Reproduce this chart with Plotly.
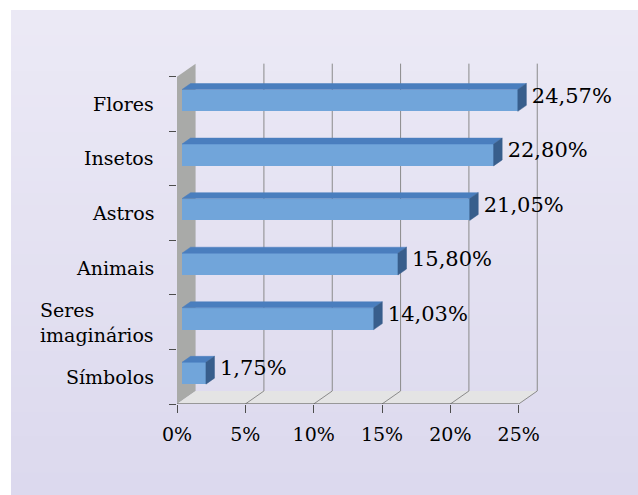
import plotly.graph_objects as go

# ---- data ----
categories = ["Símbolos", "Seres<br>imaginários", "Animais", "Astros", "Insetos", "Flores"]
values = [1.75, 14.03, 15.80, 21.05, 22.80, 24.57]
value_labels = ["1,75%", "14,03%", "15,80%", "21,05%", "22,80%", "24,57%"]
x_ticks = [0, 5, 10, 15, 20, 25]
x_tick_labels = ["0%", "5%", "10%", "15%", "20%", "25%"]

# ---- layout constants ----
W, H = 638, 495
ML, MR, MT, MB = 177, 92, 63, 91
X_RANGE = [0, 27]
Y_RANGE = [-0.5, 5.75]
DX, DY = 1.36, 0.238          # depth offset of the 3D box (data units)
F0, F1 = 0.27, 0.73           # front / back depth fraction of bars
BAR_H = 0.4
FONT = "DejaVu Serif"

pos = list(range(len(categories)))
y_lo, y_hi = pos[0] - 0.5, pos[-1] + 0.5
x_max = x_ticks[-1]

shapes = []

# background panel with vertical gradient
PW = W - ML - MR
PH = H - MT - MB
def px2paper_x(px):
    return (px - ML) / PW
def px2paper_y(py):
    return (H - MB - py) / PH

top_rgb = (236, 234, 246)
bot_rgb = (220, 217, 238)
N = 40
panel_top, panel_bot = 10, H + 2
for i in range(N):
    t = (i + 0.5) / N
    r = int(top_rgb[0] + (bot_rgb[0] - top_rgb[0]) * t)
    g = int(top_rgb[1] + (bot_rgb[1] - top_rgb[1]) * t)
    b = int(top_rgb[2] + (bot_rgb[2] - top_rgb[2]) * t)
    y0 = panel_top + (panel_bot - panel_top) * i / N
    y1 = panel_top + (panel_bot - panel_top) * (i + 1) / N + 1
    shapes.append(dict(type="rect", xref="paper", yref="paper",
                       x0=px2paper_x(11), x1=px2paper_x(W + 2),
                       y0=px2paper_y(y1), y1=px2paper_y(y0),
                       fillcolor=f"rgb({r},{g},{b})", line=dict(width=0), layer="below"))

def poly(pts):
    return "M " + " L ".join(f"{x},{y}" for x, y in pts) + " Z"

# left wall
shapes.append(dict(type="path", xref="x", yref="y", layer="below",
                   path=poly([(0, y_lo), (0, y_hi), (DX, y_hi + DY), (DX, y_lo + DY)]),
                   fillcolor="#A9AAA8", line=dict(width=0)))
# floor
shapes.append(dict(type="path", xref="x", yref="y", layer="below",
                   path=poly([(0, y_lo), (x_max, y_lo), (x_max + DX, y_lo + DY), (DX, y_lo + DY)]),
                   fillcolor="#E4E4E4", line=dict(width=0)))
# back wall gridlines + floor diagonals
for k in x_ticks[1:]:
    shapes.append(dict(type="line", xref="x", yref="y", layer="below",
                       x0=k + DX, x1=k + DX, y0=y_lo + DY, y1=y_hi + DY,
                       line=dict(color="#8A8A8A", width=1)))
    shapes.append(dict(type="line", xref="x", yref="y", layer="below",
                       x0=k, x1=k + DX, y0=y_lo, y1=y_lo + DY,
                       line=dict(color="#8A8A8A", width=1)))
# front baseline
shapes.append(dict(type="line", xref="x", yref="y", layer="below",
                   x0=0, x1=x_max, y0=y_lo, y1=y_lo,
                   line=dict(color="#4D4D4D", width=1)))

fig = go.Figure()

# bar front faces
fig.add_trace(go.Bar(
    x=values, y=[p + F0 * DY for p in pos], base=F0 * DX,
    orientation="h", width=BAR_H,
    marker=dict(color="#71A5DA", line=dict(width=0)),
    hoverinfo="skip", showlegend=False))

# top faces
tx, ty = [], []
for p, v in zip(pos, values):
    yt = p + BAR_H / 2
    tx += [F0 * DX, v + F0 * DX, v + F1 * DX, F1 * DX, F0 * DX, None]
    ty += [yt + F0 * DY, yt + F0 * DY, yt + F1 * DY, yt + F1 * DY, yt + F0 * DY, None]
fig.add_trace(go.Scatter(x=tx, y=ty, mode="lines", fill="toself",
                         fillcolor="#4A7EBE", line=dict(width=0.5, color="#4A7EBE"),
                         hoverinfo="skip", showlegend=False))

# side faces
sx, sy = [], []
for p, v in zip(pos, values):
    yb, yt = p - BAR_H / 2, p + BAR_H / 2
    sx += [v + F0 * DX, v + F0 * DX, v + F1 * DX, v + F1 * DX, v + F0 * DX, None]
    sy += [yb + F0 * DY, yt + F0 * DY, yt + F1 * DY, yb + F1 * DY, yb + F0 * DY, None]
fig.add_trace(go.Scatter(x=sx, y=sy, mode="lines", fill="toself",
                         fillcolor="#385E8C", line=dict(width=0.5, color="#385E8C"),
                         hoverinfo="skip", showlegend=False))

# value labels
fig.add_trace(go.Scatter(
    x=[v + F1 * DX + 0.4 for v in values], y=[p + 0.5 * DY for p in pos],
    mode="text", text=value_labels, textposition="middle right",
    textfont=dict(family=FONT, size=21, color="#000000"),
    cliponaxis=False, hoverinfo="skip", showlegend=False))

annotations = []
for p, c in zip(pos, categories):
    annotations.append(dict(xref="paper", yref="y", x=0, y=p, xshift=-21,
                            xanchor="right", yanchor="middle", align="left",
                            text=c, showarrow=False,
                            font=dict(family=FONT, size=19, color="#000000")))

fig.update_layout(
    width=W, height=H,
    margin=dict(l=ML, r=MR, t=MT, b=MB, autoexpand=False),
    paper_bgcolor="#FFFFFF", plot_bgcolor="rgba(0,0,0,0)",
    shapes=shapes, annotations=annotations,
    showlegend=False, bargap=0,
    xaxis=dict(range=X_RANGE, tickvals=x_ticks, ticktext=x_tick_labels,
               ticks="outside", ticklen=8, tickcolor="#4D4D4D", tickwidth=1,
               ticklabelstandoff=5,
               showgrid=False, zeroline=False, showline=False, fixedrange=True,
               tickfont=dict(family=FONT, size=19, color="#000000")),
    yaxis=dict(range=Y_RANGE, tickvals=[p - 0.5 for p in pos] + [y_hi],
               ticktext=[""] * (len(pos) + 1),
               ticks="outside", ticklen=7, tickcolor="#4D4D4D", tickwidth=1,
               showgrid=False, zeroline=False, showline=False, fixedrange=True),
)

fig.write_html("out.html", config={"displayModeBar": False},
               post_script="document.body.style.margin='0';document.body.style.overflow='hidden';")
